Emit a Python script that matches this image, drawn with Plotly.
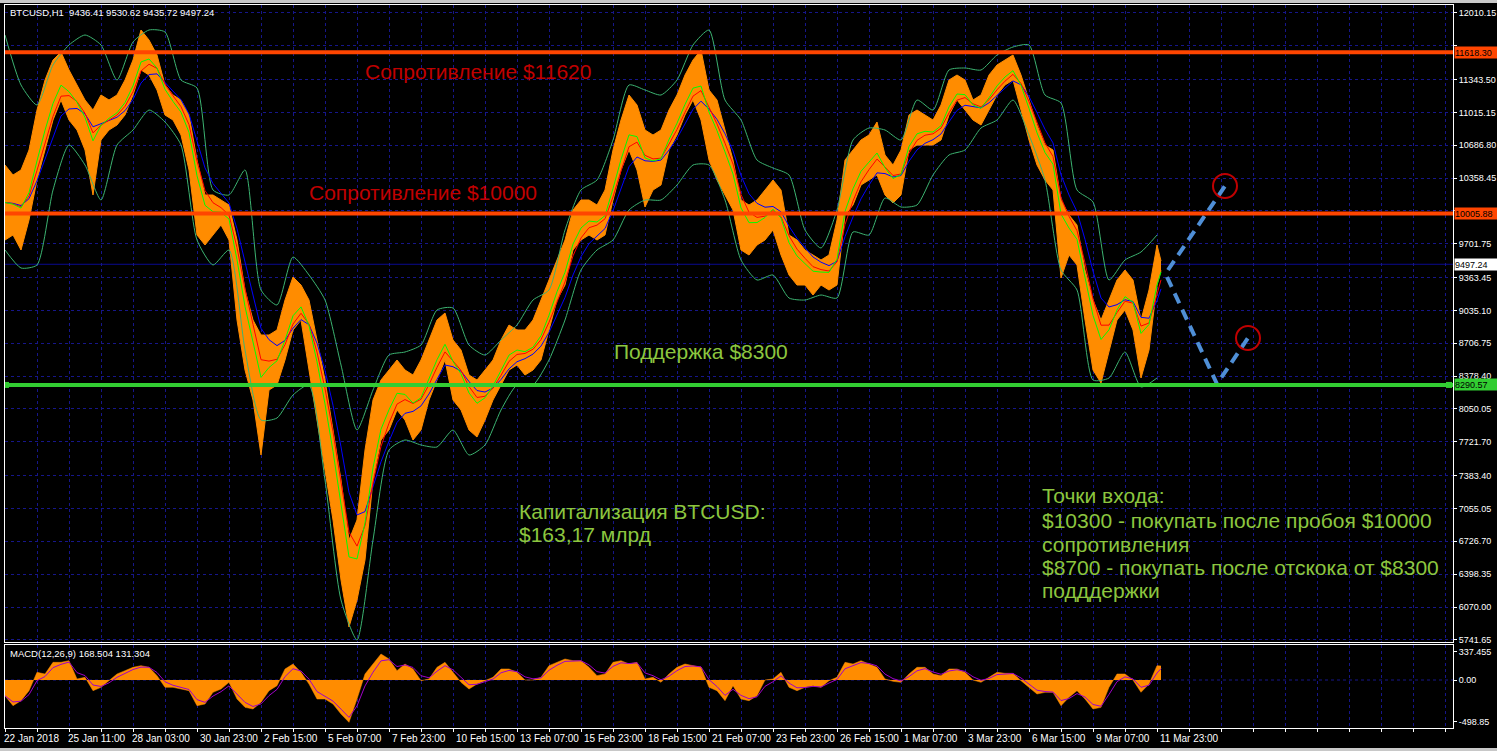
import pandas as pd
import plotly.graph_objects as go

START = pd.Timestamp("2018-01-22 19:00")

# ---------------- data ----------------
sample_hours = [8 * k for k in range(145)] + [1156]

price_high = [
    10490, 10390, 10440, 10640, 11040, 11340, 11540, 11620, 11440, 11290,
    11140, 11040, 11190, 11140, 11190, 11340, 11540, 11840, 11740, 11590,
    11290, 11190, 11140, 10990, 10540, 10190, 10190, 10140, 10090, 9740,
    9240, 8940, 8790, 8790, 8840, 9140, 9370, 9290, 9140, 8740,
    8340, 7840, 7340, 6740, 6940, 7640, 8140, 8340, 8440, 8540,
    8440, 8390, 8540, 8740, 8940, 9010, 8740, 8640, 8390, 8340,
    8440, 8540, 8740, 8890, 8840, 8840, 8940, 9140, 9340, 9540,
    9740, 10040, 10140, 10140, 10090, 10240, 10640, 10940, 11190, 11090,
    10840, 10790, 10840, 11040, 11190, 11390, 11540, 11640, 11240, 11140,
    10840, 10540, 10140, 10090, 10140, 10240, 10340, 10240, 9790, 9740,
    9640, 9590, 9540, 9590, 9940, 10540, 10640, 10740, 10790, 10920,
    10590, 10490, 10640, 10990, 11040, 10990, 10940, 11090, 11340, 11390,
    11340, 11140, 11190, 11390, 11490, 11540, 11590, 11390, 11140, 10890,
    10690, 10640, 10140, 9990, 9890, 9440, 9140, 8940, 9140, 9340,
    9440, 9340, 8940, 9240, 9690, 9530.62,
]
price_low = [
    9740, 9790, 9640, 9940, 10340, 10640, 10940, 11140, 10940, 10840,
    10640, 10190, 10740, 10840, 10890, 10990, 11190, 11440, 11390, 11240,
    10990, 10940, 10790, 10440, 9790, 9690, 9790, 9890, 9740, 8940,
    8440, 8140, 7590, 8240, 8290, 8540, 8840, 8940, 8440, 7940,
    7440, 6940, 6340, 5870, 6140, 6540, 7340, 7740, 7840, 8040,
    7940, 7740, 7840, 8140, 8340, 8540, 8140, 8040, 7840, 7770,
    7940, 8140, 8290, 8440, 8490, 8390, 8440, 8540, 8840, 9140,
    9290, 9640, 9740, 9790, 9740, 9790, 10140, 10440, 10640, 10440,
    10070, 10240, 10290, 10640, 10790, 10990, 11140, 10940, 10540, 10340,
    10190, 10040, 9640, 9590, 9690, 9740, 9840, 9590, 9390, 9290,
    9290, 9190, 9290, 9240, 9290, 9990, 10090, 10290, 10340, 10390,
    10190, 10110, 10190, 10640, 10690, 10690, 10690, 10740, 10990, 11140,
    11040, 10940, 10890, 11040, 11190, 11290, 11340, 11040, 10740, 10490,
    10340, 10240, 9360, 9590, 9490, 8940, 8440, 8310, 8640, 8940,
    9040, 8840, 8360, 8640, 9290, 9435.72,
]
macd_hist = [
    -190, -308, -248, -128, 92, 72, 212, 212, 232, 12,
    32, -128, -88, -8, 72, 112, 152, 172, 152, 52,
    -88, -88, -108, -128, -308, -288, -148, -108, -28, -228,
    -328, -348, -268, -128, -68, 132, 192, 92, -48, -228,
    -228, -288, -408, -508, -228, 72, 192, 312, 252, 112,
    192, 132, -8, 12, 152, 212, 92, -28, -108, -48,
    -8, 32, 132, 132, 92, 0, 0, 32, 172, 212,
    252, 232, 232, 152, 52, 72, 212, 232, 192, 212,
    12, 32, -28, 72, 152, 192, 172, 152, -88, -128,
    -248, -68, -228, -248, -188, 0, 12, 92, -88, -128,
    -88, -68, -88, -8, 32, 212, 192, 232, 192, 152,
    12, -16, -28, 72, 152, 152, 72, 52, 132, 132,
    92, 0, -28, 32, 92, 80, 80, -8, -88, -168,
    -148, -148, -308, -208, -128, -228, -348, -328, -88, 72,
    72, 0, -148, -48, 172, 168.504,
]

band_hours = [16 * k for k in range(73)]
band_upper = [
    11790, 11290, 11090, 11490, 11690, 11790, 11690, 11340, 11720, 11840,
    11820, 11340, 11260, 10240, 10190, 10440, 9240, 9090, 9570, 9390,
    9140, 8490, 7840, 8240, 8590, 8620, 8690, 9040, 9060, 8690,
    8590, 8740, 8890, 9140, 9240, 9840, 10240, 10340, 10740, 11290,
    11240, 11190, 11340, 11690, 11840, 11140, 10940, 10540, 10460, 10390,
    9840, 9660, 10040, 10740, 10860, 10840, 10740, 11140, 11040, 11440,
    11460, 11440, 11590, 11670, 11690, 11190, 11110, 10240, 10120, 9340,
    9540, 9620, 9790,
]
band_lower = [
    9640, 9460, 9490, 10240, 10690, 10490, 10140, 10690, 10840, 11040,
    10920, 10690, 9740, 9490, 9640, 8640, 7940, 7960, 8190, 8290,
    7340, 6140, 5740, 6740, 7640, 7740, 7690, 7670, 7840, 7590,
    7690, 8040, 8290, 8290, 8540, 8940, 9440, 9640, 9740, 10040,
    10140, 10140, 10290, 10490, 10490, 10140, 9540, 9340, 9390, 9160,
    9140, 9190, 9160, 9820, 9790, 10160, 10070, 10090, 10390, 10590,
    10640, 10860, 10940, 11140, 10790, 10340, 9440, 9240, 8340, 8360,
    8620, 8270, 8360,
]

tick_times = [
    "2018-01-22 19:00", "2018-01-25 11:00", "2018-01-28 03:00", "2018-01-30 23:00",
    "2018-02-02 15:00", "2018-02-05 07:00", "2018-02-07 23:00", "2018-02-10 15:00",
    "2018-02-13 07:00", "2018-02-15 23:00", "2018-02-18 15:00", "2018-02-21 07:00",
    "2018-02-23 23:00", "2018-02-26 15:00", "2018-03-01 07:00", "2018-03-03 23:00",
    "2018-03-06 15:00", "2018-03-09 07:00", "2018-03-11 23:00",
]
tick_labels = [
    "22 Jan 2018", "25 Jan 11:00", "28 Jan 03:00", "30 Jan 23:00", "2 Feb 15:00",
    "5 Feb 07:00", "7 Feb 23:00", "10 Feb 15:00", "13 Feb 07:00", "15 Feb 23:00",
    "18 Feb 15:00", "21 Feb 07:00", "23 Feb 23:00", "26 Feb 15:00", "1 Mar 07:00",
    "3 Mar 23:00", "6 Mar 15:00", "9 Mar 07:00", "11 Mar 23:00",
]
price_ticks = [12010.15, 11681.80, 11343.50, 11015.15, 10686.80, 10358.45, 10030.10,
               9701.75, 9363.45, 9035.10, 8706.75, 8378.40, 8050.05, 7721.70,
               7383.40, 7055.05, 6726.70, 6398.35, 6070.00, 5741.65]
# labels hidden behind the level boxes in the reference
hidden_price_ticks = [11681.80, 10030.10]
macd_ticks = [337.455, 0.0, -498.85]
macd_tick_labels = ["337.455", "0.00", "-498.85"]

resistance_levels = [11618.30, 10005.88]
support_level = 8290.57
bid_price = 9497.24

proj_up_hours = [1163, 1220]
proj_up_price = [9440, 10280]
proj_dn_hours = [1162, 1212, 1243]
proj_dn_price = [9370, 8300, 8760]
target_hours = [1220, 1243]
target_price = [10280, 8760]

# ---------------- helpers ----------------
def T(h):
    return START + pd.to_timedelta(h, unit="h")

xs = [T(h) for h in sample_hours]
bx = [T(h) for h in band_hours]
mid = (pd.Series(price_high) + pd.Series(price_low)) / 2
ma_fast = mid.ewm(span=2, adjust=False).mean()
ma_mid = mid.ewm(span=3, adjust=False).mean()
ma_slow = mid.ewm(span=5, adjust=False).mean()
signal = pd.Series(macd_hist).ewm(span=2.2, adjust=False).mean()

GRID = "#16168a"
FONT = "Liberation Sans"
ORANGE = "#FF8C00"

fig = go.Figure()

# price envelope (dense hourly bars)
fig.add_trace(go.Scatter(x=xs, y=price_high, mode="lines",
                         line=dict(color=ORANGE, width=1), hoverinfo="skip"))
fig.add_trace(go.Scatter(x=xs, y=price_low, mode="lines", fill="tonexty",
                         fillcolor=ORANGE, line=dict(color=ORANGE, width=1),
                         hoverinfo="skip"))
# bands
fig.add_trace(go.Scatter(x=bx, y=band_upper, mode="lines",
                         line=dict(color="#3CB371", width=1, shape="spline", smoothing=0.6)))
fig.add_trace(go.Scatter(x=bx, y=band_lower, mode="lines",
                         line=dict(color="#3CB371", width=1, shape="spline", smoothing=0.6)))
# moving averages
fig.add_trace(go.Scatter(x=xs, y=ma_slow, mode="lines", line=dict(color="#0000FF", width=1)))
fig.add_trace(go.Scatter(x=xs, y=ma_mid, mode="lines", line=dict(color="#FF0000", width=1)))
fig.add_trace(go.Scatter(x=xs, y=ma_fast, mode="lines", line=dict(color="#00FF00", width=1)))

# support-line anchor squares
fig.add_trace(go.Scatter(x=[T(1), T(1444)], y=[support_level, support_level], mode="markers",
                         marker=dict(symbol="square", size=6, color="#32CD32")))

# projections
fig.add_trace(go.Scatter(x=[T(h) for h in proj_up_hours], y=proj_up_price, mode="lines",
                         line=dict(color="#4F8FD6", width=4, dash="11px,7px")))
fig.add_trace(go.Scatter(x=[T(h) for h in proj_dn_hours], y=proj_dn_price, mode="lines",
                         line=dict(color="#4F8FD6", width=4, dash="11px,7px")))
fig.add_trace(go.Scatter(x=[T(h) for h in target_hours], y=target_price, mode="markers",
                         marker=dict(symbol="circle-open", size=24, color="#C00000",
                                     line=dict(width=2, color="#C00000"))))

# MACD
fig.add_trace(go.Scatter(x=xs, y=macd_hist, mode="lines", fill="tozeroy",
                         fillcolor=ORANGE, line=dict(color=ORANGE, width=0.5),
                         xaxis="x2", yaxis="y2"))
fig.add_trace(go.Scatter(x=xs, y=signal, mode="lines",
                         line=dict(color="#A000C8", width=1), xaxis="x2", yaxis="y2"))

xrange = [T(0), T(1448)]
dtick_ms = 32 * 3600 * 1000

shapes = []
for lvl in resistance_levels:
    shapes.append(dict(type="line", xref="x domain", yref="y", x0=0, x1=1, y0=lvl, y1=lvl,
                       line=dict(color="#FF4500", width=4), layer="above"))
shapes.append(dict(type="line", xref="x domain", yref="y", x0=0, x1=1,
                   y0=support_level, y1=support_level,
                   line=dict(color="#32CD32", width=4), layer="above"))
shapes.append(dict(type="line", xref="x domain", yref="y", x0=0, x1=1,
                   y0=bid_price, y1=bid_price, line=dict(color="#0a0a90", width=1), layer="below"))
shapes.append(dict(type="line", xref="x2 domain", yref="y2", x0=0, x1=1, y0=0, y1=0,
                   line=dict(color=GRID, width=1, dash="3px,3px"), layer="below"))
# window frame bits
shapes.append(dict(type="rect", xref="paper", yref="paper", x0=-0.01, x1=1.05,
                   y0=1 + 2 / 723, y1=1 + 6 / 723, fillcolor="#c8c8c8", line=dict(width=0)))
shapes.append(dict(type="rect", xref="paper", yref="paper", x0=-0.01, x1=1.05,
                   y0=-(751 - 728) / 723, y1=-(748 - 728) / 723,
                   fillcolor="#c8c8c8", line=dict(width=0)))

small_font = dict(family=FONT, size=9.5, color="white")

annotations = []
for t, lab in zip(tick_times, tick_labels):
    annotations.append(dict(x=pd.Timestamp(t), y=-(738 - 728) / 723, xref="x2", yref="paper",
                            text=lab, showarrow=False, xanchor="left", yanchor="middle",
                            xshift=-3, font=dict(family=FONT, size=10, color="white")))

def box(level, text, bg):
    return dict(x=1, xref="paper", y=level, yref="y", text=text, showarrow=False,
                xanchor="left", yanchor="middle", xshift=1, bgcolor=bg, width=43, height=11,
                align="left", borderpad=0, font=dict(family=FONT, size=9, color="black"))

annotations.append(box(resistance_levels[0], "11618.30", "#FF4500"))
annotations.append(box(resistance_levels[1], "10005.88", "#FF4500"))
annotations.append(box(support_level, "8290.57", "#32CD32"))
annotations.append(box(bid_price, "9497.24", "white"))

annotations.append(dict(x=0, xref="paper", y=1, yref="paper", yshift=-7, xshift=3,
                        text="BTCUSD,H1  9436.41 9530.62 9435.72 9497.24", showarrow=False,
                        xanchor="left", yanchor="middle", font=small_font))
annotations.append(dict(x=0, xref="paper", y=(728 - 653) / 723, yref="paper", xshift=3,
                        text="MACD(12,26,9) 168.504 131.304", showarrow=False,
                        xanchor="left", yanchor="middle", font=small_font))

RED_T = "#C00000"
GREEN_T = "#8CC63F"

def txt(h, p, s, color):
    return dict(x=T(h), y=p, xref="x", yref="y", text=s, showarrow=False,
                xanchor="left", yanchor="middle", xshift=-2,
                font=dict(family=FONT, size=21, color=color))

annotations.append(txt(360, 11430, "Сопротивление $11620", RED_T))
annotations.append(txt(304, 10220, "Сопротивление $10000", RED_T))
annotations.append(txt(609, 8630, "Поддержка $8300", GREEN_T))
annotations.append(txt(514, 7030, "Капитализация BTCUSD:", GREEN_T))
annotations.append(txt(514, 6800, "$163,17 млрд", GREEN_T))
entry_lines = ["Точки входа:", "$10300 - покупать после пробоя $10000", "сопротивления",
               "$8700 - покупать после отскока от $8300", "подддержки"]
entry_prices = [7190, 6940, 6700, 6470, 6240]
for s, p in zip(entry_lines, entry_prices):
    annotations.append(txt(1037, p, s, GREEN_T))

axis_font = dict(family=FONT, size=9, color="white")
price_tick_text = ["" if v in hidden_price_ticks else f"{v:.2f}" for v in price_ticks]

fig.update_layout(
    width=1497, height=751,
    margin=dict(l=5, r=44, t=5, b=23, autoexpand=False),
    paper_bgcolor="black", plot_bgcolor="black",
    showlegend=False,
    xaxis=dict(domain=[0, 1], range=xrange, anchor="y", type="date",
               tick0=START, dtick=dtick_ms, showticklabels=False, ticks="",
               showgrid=True, gridcolor=GRID, griddash="3px,3px", gridwidth=1,
               showline=True, mirror=True, linecolor="white", linewidth=1, zeroline=False),
    yaxis=dict(domain=[(728 - 642) / 723, 1], range=[5720, 12090], side="right",
               tickvals=price_ticks, ticktext=price_tick_text,
               ticks="outside", ticklen=3, tickcolor="white", tickfont=axis_font,
               showgrid=True, gridcolor=GRID, griddash="3px,3px", gridwidth=1,
               showline=True, mirror=True, linecolor="white", linewidth=1, zeroline=False),
    xaxis2=dict(domain=[0, 1], range=xrange, anchor="y2", type="date", matches="x",
                tick0=START, dtick=dtick_ms, showticklabels=False, ticks="outside",
                ticklen=3, tickcolor="white",
                showgrid=True, gridcolor=GRID, griddash="3px,3px", gridwidth=1,
                showline=True, mirror=True, linecolor="white", linewidth=1, zeroline=False),
    yaxis2=dict(domain=[0, (728 - 645) / 723], range=[-576, 420], side="right", anchor="x2",
                tickvals=macd_ticks, ticktext=macd_tick_labels,
                ticks="outside", ticklen=3, tickcolor="white", tickfont=axis_font,
                showgrid=False, showline=True, mirror=True, linecolor="white",
                linewidth=1, zeroline=False),
    shapes=shapes,
    annotations=annotations,
)

fig.write_html(
    "out.html",
    config={"displayModeBar": False},
    post_script="document.body.style.margin='0px';document.body.style.overflow='hidden';",
)
